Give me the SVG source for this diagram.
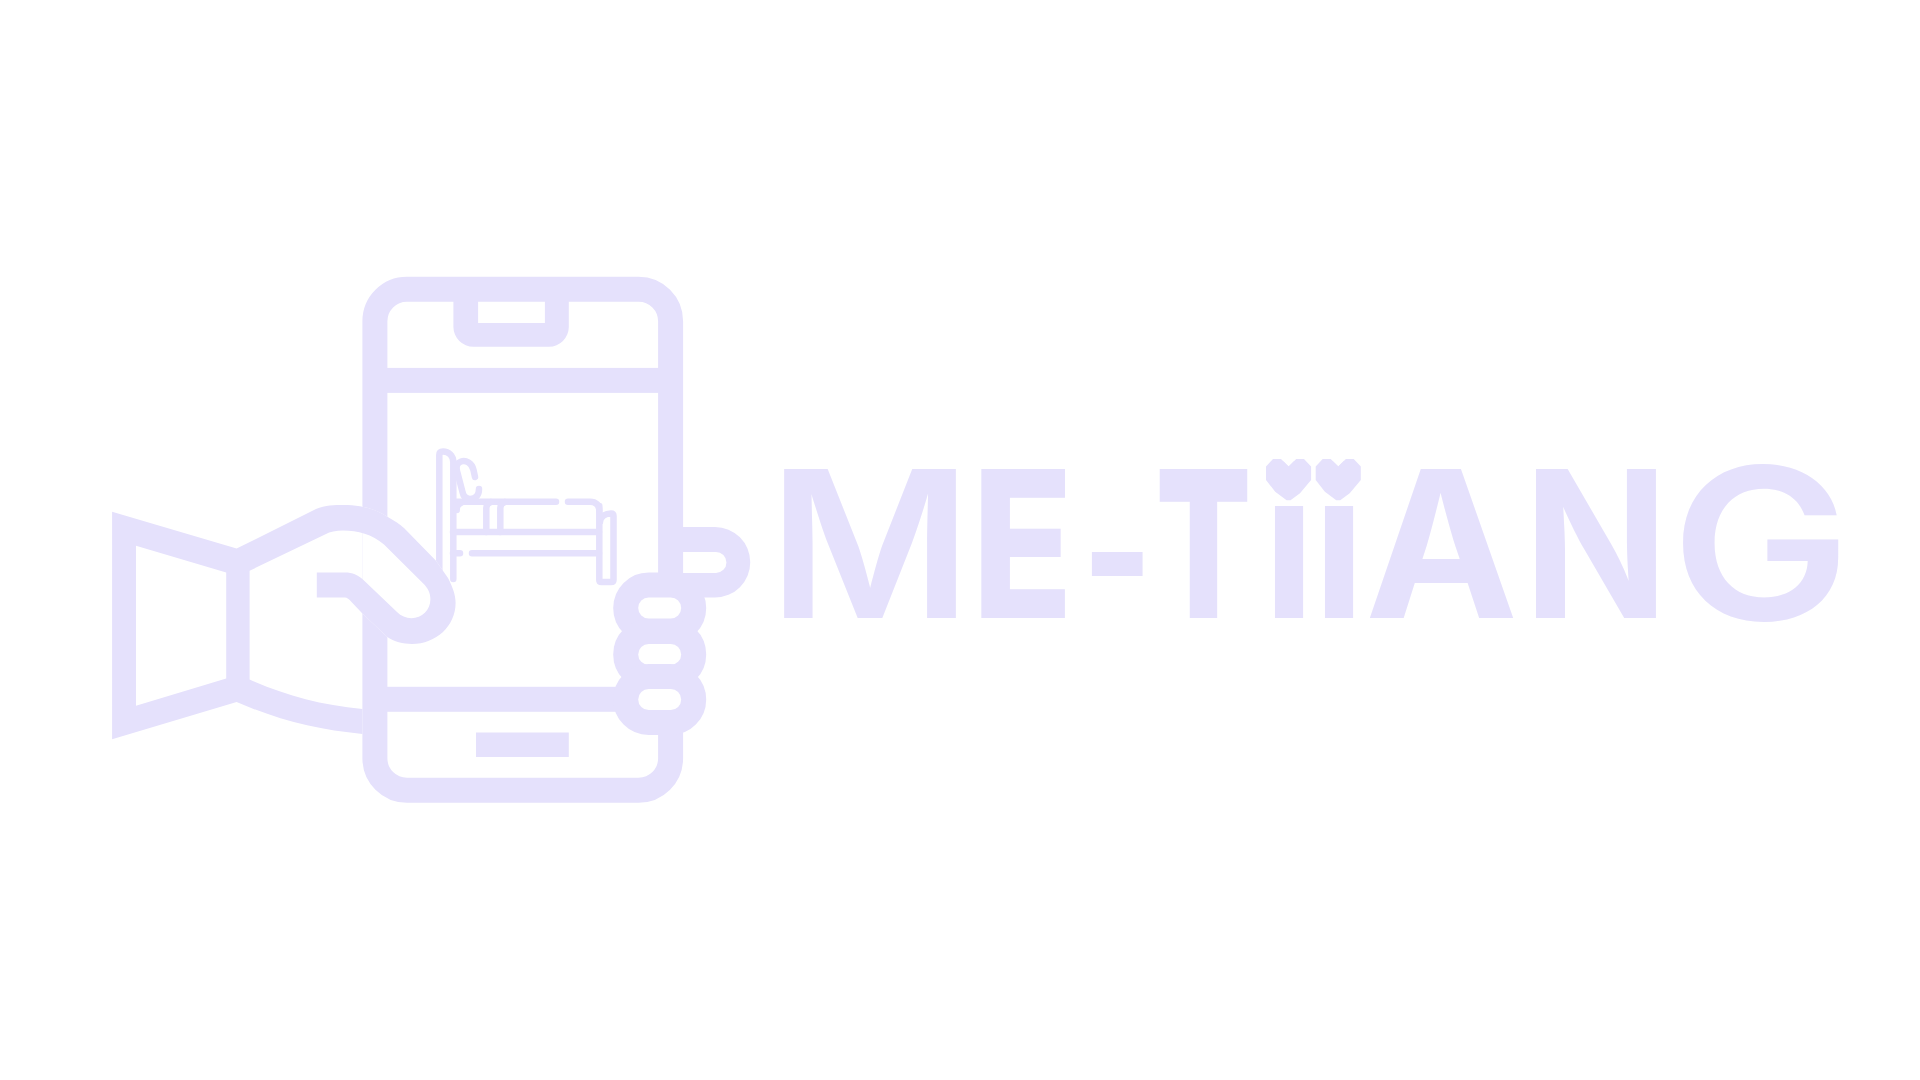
<svg xmlns="http://www.w3.org/2000/svg" width="1920" height="1080" viewBox="0 0 1920 1080">
<style>
.f{fill:#e5e1fc}
.l{fill:none;stroke:#e5e1fc;stroke-width:6.5;stroke-linecap:round;stroke-linejoin:round}
.w{fill:#fff;stroke:#e5e1fc;stroke-width:25}
.t{font-family:Inter,"Liberation Sans",sans-serif;font-weight:700;font-size:205px;fill:#e5e1fc}
</style>
<defs>
<path id="heart" d="M1266,466.5L1273,459H1281L1288.6,466.5L1296.2,459H1304L1311.1,466.5V480L1300,493.3L1290.5,500.3H1286.6L1275.2,491.7L1266,480Z"/>
<path id="notch" d="M1273,450H1304V459L1296.2,459L1288.6,466.5L1281,459H1273Z"/>
</defs>
<rect width="1920" height="1080" fill="#fff"/>
<g id="phone">
<rect x="374.9" y="289.3" width="295.7" height="501" rx="32" fill="none" stroke="#e5e1fc" stroke-width="25"/>
<path class="f" d="M453.4,295V327A20,20 0 0 0 473.4,346.8H549A20,20 0 0 0 568.8,327V295H544.9V322.9H478.1V295Z"/>
<rect class="f" x="375" y="367.9" width="295" height="25"/>
<rect class="f" x="375" y="686.8" width="260" height="25"/>
<rect class="f" x="476" y="732.5" width="92.8" height="24.5"/>
<path class="f" d="M675,527H715A35.2,35.2 0 0 1 715,597.5H675V572.9H716A10.4,10.4 0 0 0 716,552H675Z"/>
</g>
<g id="bed">
<path class="l" d="M439.3,572V455Q439.3,451.5 443,451.5C449,451.5 453.3,456 453.3,462V579"/>
<path class="l" d="M475,477L473.5,470C472,463 466,460 461,461.5C456.5,463 456,467 457,471L462.5,492C463.5,497 466,499 470,499C476,499 479,495 479,489"/>
<path class="l" d="M456,501.7H556M568,501.7H590C596,501.7 599.3,505 599.3,511M453,532H599M472,553.3H599M453,553.3H460"/>
<path class="l" d="M486.3,532V508Q486.3,503 491,502M500.3,532V508Q500.3,503 505,502M456.7,510Q456.7,504 461,503"/>
<path class="l" d="M599.3,506V580Q599.3,582 601.5,582H611Q613.5,582 613.5,580V516Q613.5,513.5 611,513.5C606,513.5 600,516 600,522"/>
</g>
<g id="hand">
<path fill="#fff" d="M362.4,506H343C362,505 375,509 387,516.4C395,521 400,524 404,528L436,560.7L448,578C453,588 455.6,595 455.6,603C455.6,626 436,644 412,644C403,644 394,642 387,636.8L362.4,613.6Z"/>
<path class="f" fill-rule="evenodd" d="M112.1,511.8L236.6,548.6L316,509C325,505 335,505 343,505C362,505 375,509 387,516.4C395,521 400,524 404,528L436,560.7L448,578C453,588 455.6,595 455.6,603C455.6,626 436,644 412,644C403,644 394,642 387,636.8L362.4,613.6L351.5,602C349,599 347,597.5 345,597.5H316.8V572.5H345C352,572.5 359,575 364.5,581L397,612C401,616 406,618.2 411.4,618.2C422,618.2 430.4,610 430.4,599.3C430.4,593 428,588 423,583.2L384,544.6C372,534 358,530.4 343,530.4C336,530.4 330,531.5 325.5,534.3L249.6,570.7V679.6C285,695 320,705 362.4,708.9V733.9C318,730 278,720 236.6,702L112.1,739.3ZM136,545.7L226.2,572.5V678.6L136,705.7Z"/>
</g>
<g id="fingers">
<rect class="w" x="625.7" y="585" width="68" height="46" rx="23"/>
<rect class="w" x="625.7" y="631.4" width="68" height="46" rx="23"/>
<rect class="w" x="625.7" y="676.5" width="68" height="46" rx="23"/>
</g>
<g id="wordmark">
<text class="t" y="618"><tspan x="768" textLength="204" lengthAdjust="spacingAndGlyphs" font-weight="600">M</tspan><tspan x="972" textLength="101" lengthAdjust="spacingAndGlyphs" font-weight="800">E</tspan><tspan x="1081.5" dy="6.5" textLength="71.5" lengthAdjust="spacingAndGlyphs">-</tspan><tspan x="1156" dy="-6.5" textLength="95" lengthAdjust="spacingAndGlyphs" font-weight="900">T</tspan><tspan x="1263" textLength="52" lengthAdjust="spacingAndGlyphs">i</tspan><tspan x="1313" textLength="52" lengthAdjust="spacingAndGlyphs">i</tspan><tspan x="1365" textLength="153" lengthAdjust="spacingAndGlyphs">A</tspan><tspan x="1523.6" textLength="145" lengthAdjust="spacingAndGlyphs">N</tspan><tspan x="1671" dy="2" textLength="180" lengthAdjust="spacingAndGlyphs" font-weight="600" font-size="211">G</tspan></text>
<use fill="#fff" href="#notch"/>
<use fill="#fff" href="#notch" x="49.7"/>
<use class="f" href="#heart"/>
<use class="f" href="#heart" x="49.7"/>
</g>
</svg>
